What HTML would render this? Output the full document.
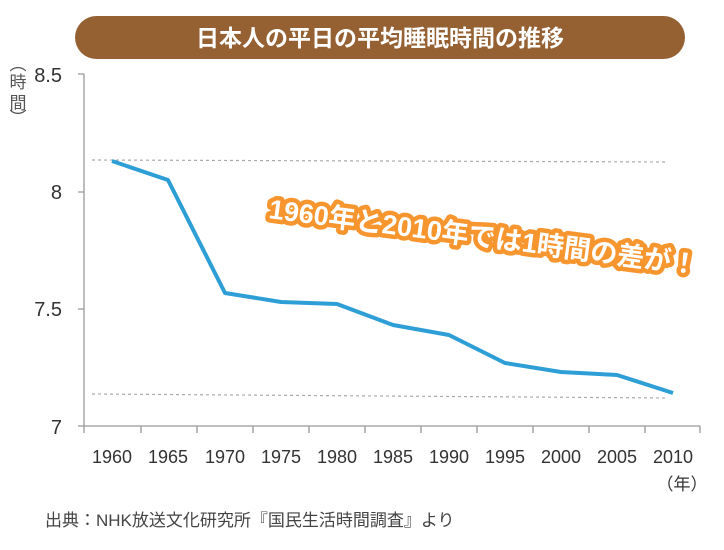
<!DOCTYPE html>
<html><head><meta charset="utf-8"><style>
body{margin:0;background:#fff;width:724px;height:545px;overflow:hidden;font-family:"Liberation Sans","Noto Sans CJK JP",sans-serif}
</style></head><body>
<svg width="724" height="545" xmlns="http://www.w3.org/2000/svg" font-family="Liberation Sans, Noto Sans CJK JP, sans-serif">
<rect x="75" y="16" width="610" height="43" rx="21.5" fill="#956132"/>
<text x="380" y="46" text-anchor="middle" fill="#fff" font-size="23" font-weight="bold">日本人の平日の平均睡眠時間の推移</text>
<g fill="#333" font-size="20">
<text x="62" y="82" text-anchor="end">8.5</text>
<text x="62" y="199" text-anchor="end">8</text>
<text x="62" y="316" text-anchor="end">7.5</text>
<text x="62" y="434" text-anchor="end">7</text>
</g>
<g fill="#555" font-size="17" text-anchor="middle">
<text x="18" y="70">︵</text><text x="18" y="88">時</text><text x="18" y="109">間</text><text x="18" y="124">︶</text>
</g>
<g stroke="#999" stroke-width="1.3" fill="none">
<path d="M84 74V426M78 74H84M78 192H84M78 309H84M78 426H84M78 426H700"/>
<path d="M84 426v7M141 426v7M197 426v7M253 426v7M309 426v7M365 426v7M421 426v7M477 426v7M533 426v7M589 426v7M645 426v7M700 426v7"/>
</g>
<g stroke="#aaa" stroke-width="1.2" stroke-dasharray="3,3" fill="none">
<path d="M92 160L668 162"/><path d="M92 394L668 398"/>
</g>
<polyline points="112,161 168,180 225,293 281,302 337,304 393,325 449,335 505,363 561,372 617,375 673,393" fill="none" stroke="#2d9fd6" stroke-width="4" stroke-linejoin="round"/>
<g fill="#333" font-size="18" text-anchor="middle">
<text x="112" y="463">1960</text><text x="168" y="463">1965</text><text x="225" y="463">1970</text><text x="281" y="463">1975</text><text x="337" y="463">1980</text><text x="393" y="463">1985</text><text x="449" y="463">1990</text><text x="505" y="463">1995</text><text x="561" y="463">2000</text><text x="617" y="463">2005</text><text x="673" y="463">2010</text>
<text x="682" y="490" font-size="17">（年）</text>
</g>
<text x="45" y="526" fill="#444" font-size="17">出典：NHK放送文化研究所『国民生活時間調査』より</text>
<g transform="translate(268,218) rotate(7.5)" font-size="27" font-weight="bold">
<text x="0" y="0" fill="#f7952f" stroke="#f7952f" stroke-width="9" stroke-linejoin="round">1960年と2010年では1時間の差が！</text>
<text x="0" y="0" fill="#fff">1960年と2010年では1時間の差が！</text>
</g>
</svg>
</body></html>
